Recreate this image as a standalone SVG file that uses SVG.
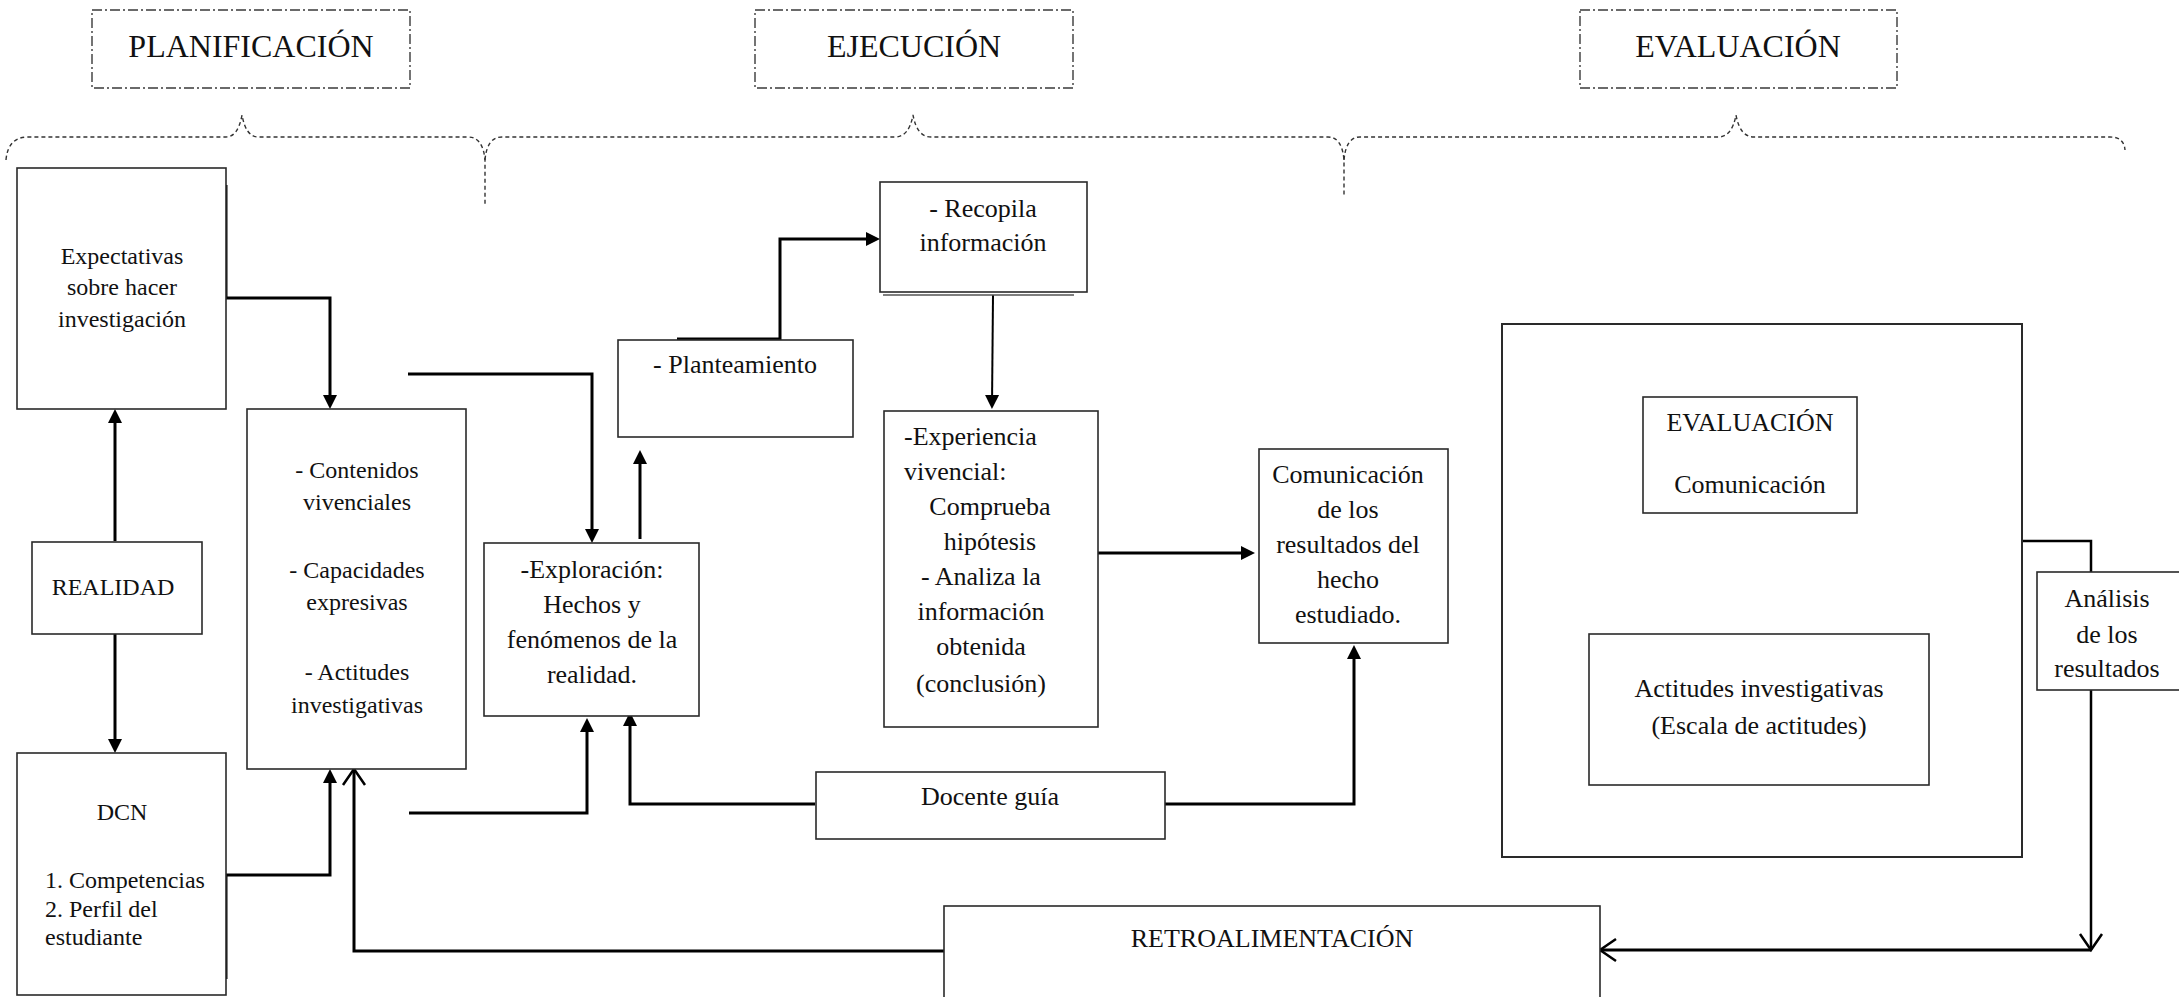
<svg xmlns="http://www.w3.org/2000/svg" width="2179" height="997" viewBox="0 0 2179 997">
<style>
  .box { fill: #fff; stroke: #2a2a2a; stroke-width: 1.6; }
  .hdr { fill: none; stroke: #3a3a3a; stroke-width: 1.4; stroke-dasharray: 10 3 2 3; }
  .brace { fill: none; stroke: #333; stroke-width: 1.4; stroke-dasharray: 4 3; }
  .t { font-family: "Liberation Serif", "Times New Roman", serif; font-size: 26px; fill: #111; }
  .s { font-size: 24px; }
  .h { font-size: 32px; }
  .c { text-anchor: middle; }
  .con { fill: none; stroke: #000; stroke-width: 3; }
  .arr { marker-end: url(#arr); }
  .open { marker-end: url(#open); }
</style>
<defs>
  <marker id="arr" markerUnits="userSpaceOnUse" markerWidth="16" markerHeight="16" refX="10" refY="7" orient="auto" overflow="visible">
    <path d="M0,0 L14,7 L0,14 Z" fill="#000"/>
  </marker>
  <marker id="open" markerUnits="userSpaceOnUse" markerWidth="20" markerHeight="24" refX="18" refY="12" orient="auto" overflow="visible">
    <path d="M2,1 L18,12 L2,23" fill="none" stroke="#000" stroke-width="2.5"/>
  </marker>
</defs>
<rect width="2179" height="997" fill="#fff"/>

<g id="phase-headers">
  <g id="hdr-planificacion">
    <rect class="hdr" x="92" y="10" width="318" height="78"/>
    <text class="t h c" x="251" y="57">PLANIFICACIÓN</text>
  </g>
  <g id="hdr-ejecucion">
    <rect class="hdr" x="755" y="10" width="318" height="78"/>
    <text class="t h c" x="914" y="57">EJECUCIÓN</text>
  </g>
  <g id="hdr-evaluacion">
    <rect class="hdr" x="1580" y="10" width="317" height="78"/>
    <text class="t h c" x="1738" y="57">EVALUACIÓN</text>
  </g>
</g>

<g id="braces">
  <path class="brace" d="M6,160 Q8,137 28,137 L226,137 Q238,137 242,115 Q246,137 258,137 L468,137 Q483,137 485,160 L485,204"/>
  <path class="brace" d="M485,160 Q487,137 502,137 L895,137 Q909,137 913,115 Q917,137 931,137 L1328,137 Q1342,137 1344,160 L1344,195"/>
  <path class="brace" d="M1344,160 Q1346,137 1360,137 L1718,137 Q1732,137 1736,115 Q1740,137 1754,137 L2110,137 Q2124,137 2125,150"/>
</g>

<g id="connectors">
  <path class="con arr" d="M226,185 L226,298 L330,298 L330,405"/>
  <path class="con arr" d="M115,541 L115,413"/>
  <path class="con arr" d="M115,634 L115,749"/>
  <path class="con arr" d="M226,979 L226,875 L330,875 L330,773"/>
  <path class="con arr" d="M408,374 L592,374 L592,539"/>
  <path class="con arr" d="M409,813 L587,813 L587,722"/>
  <path class="con arr" d="M640,539 L640,454"/>
  <path class="con arr" d="M677,339 L780,339 L780,239 L876,239"/>
  <path class="con arr" style="stroke-width:2" d="M993,295 L992,405"/>
  <path class="con arr" d="M1098,553 L1251,553"/>
  <path class="con arr" d="M815,804 L630,804 L630,716"/>
  <path class="con arr" d="M1165,804 L1354,804 L1354,649"/>
  <path class="con arr" d="M1756,513 L1756,623"/>
  <path class="con" style="stroke-width:2.5" d="M2019,541 L2091,541 L2091,572"/>
  <path class="con open" style="stroke-width:2.5" d="M2091,690 L2091,950"/>
  <path class="con open" d="M2091,950 L1600,950"/>
  <path class="con open" d="M944,951 L354,951 L354,769"/>
</g>

<g id="expectativas">
  <rect class="box" x="17" y="168" width="209" height="241"/>
  <text class="t s c" x="122" y="264">Expectativas</text>
  <text class="t s c" x="122" y="295">sobre hacer</text>
  <text class="t s c" x="122" y="327">investigación</text>
</g>

<g id="realidad">
  <rect class="box" x="32" y="542" width="170" height="92"/>
  <text class="t s c" x="113" y="595">REALIDAD</text>
</g>

<g id="dcn">
  <rect class="box" x="17" y="753" width="209" height="242"/>
  <text class="t s c" x="122" y="820">DCN</text>
  <text class="t s" x="45" y="888">1. Competencias</text>
  <text class="t s" x="45" y="917">2. Perfil del</text>
  <text class="t s" x="45" y="945">estudiante</text>
</g>

<g id="contenidos">
  <rect class="box" x="247" y="409" width="219" height="360"/>
  <text class="t s c" x="357" y="478">- Contenidos</text>
  <text class="t s c" x="357" y="510">vivenciales</text>
  <text class="t s c" x="357" y="578">- Capacidades</text>
  <text class="t s c" x="357" y="610">expresivas</text>
  <text class="t s c" x="357" y="680">- Actitudes</text>
  <text class="t s c" x="357" y="713">investigativas</text>
</g>

<g id="exploracion">
  <rect class="box" x="484" y="543" width="215" height="173"/>
  <text class="t c" x="592" y="578">-Exploración:</text>
  <text class="t c" x="592" y="613">Hechos y</text>
  <text class="t c" x="592" y="648">fenómenos de la</text>
  <text class="t c" x="592" y="683">realidad.</text>
</g>

<g id="planteamiento">
  <rect class="box" x="618" y="340" width="235" height="97"/>
  <text class="t c" x="735" y="373">- Planteamiento</text>
</g>

<g id="recopila">
  <rect class="box" x="880" y="182" width="207" height="110"/>
  <line x1="883" y1="295" x2="1074" y2="295" stroke="#555" stroke-width="1.4"/>
  <text class="t c" x="983" y="217">- Recopila</text>
  <text class="t c" x="983" y="251">información</text>
</g>

<g id="experiencia">
  <rect class="box" x="884" y="411" width="214" height="316"/>
  <text class="t" x="904" y="445">-Experiencia</text>
  <text class="t" x="904" y="480">vivencial:</text>
  <text class="t c" x="990" y="515">Comprueba</text>
  <text class="t c" x="990" y="550">hipótesis</text>
  <text class="t c" x="981" y="585">- Analiza la</text>
  <text class="t c" x="981" y="620">información</text>
  <text class="t c" x="981" y="655">obtenida</text>
  <text class="t c" x="981" y="692">(conclusión)</text>
</g>

<g id="comunicacion">
  <rect class="box" x="1259" y="449" width="189" height="194"/>
  <text class="t c" x="1348" y="483">Comunicación</text>
  <text class="t c" x="1348" y="518">de los</text>
  <text class="t c" x="1348" y="553">resultados del</text>
  <text class="t c" x="1348" y="588">hecho</text>
  <text class="t c" x="1348" y="623">estudiado.</text>
</g>

<g id="docente">
  <rect class="box" x="816" y="772" width="349" height="67"/>
  <text class="t c" x="990" y="805">Docente guía</text>
</g>

<g id="evaluacion-marco">
  <rect class="box" x="1502" y="324" width="520" height="533" style="stroke-width:2"/>
</g>

<g id="evaluacion">
  <rect class="box" x="1643" y="397" width="214" height="116"/>
  <text class="t c" x="1750" y="431">EVALUACIÓN</text>
  <text class="t c" x="1750" y="493">Comunicación</text>
</g>

<g id="actitudes">
  <rect class="box" x="1589" y="634" width="340" height="151"/>
  <text class="t c" x="1759" y="697">Actitudes investigativas</text>
  <text class="t c" x="1759" y="734">(Escala de actitudes)</text>
</g>

<g id="analisis">
  <rect class="box" x="2037" y="572" width="150" height="118"/>
  <text class="t c" x="2107" y="607">Análisis</text>
  <text class="t c" x="2107" y="643">de los</text>
  <text class="t c" x="2107" y="677">resultados</text>
</g>

<g id="retroalimentacion">
  <rect class="box" x="944" y="906" width="656" height="100"/>
  <text class="t c" x="1272" y="947">RETROALIMENTACIÓN</text>
</g>
</svg>
